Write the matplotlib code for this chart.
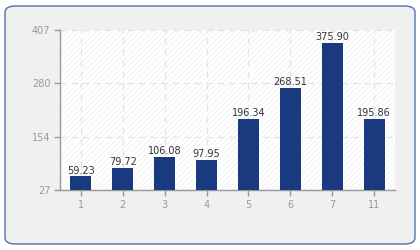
import matplotlib
matplotlib.use("Agg")
import matplotlib.pyplot as plt
from matplotlib.patches import FancyBboxPatch, Rectangle

categories = ["1", "2", "3", "4", "5", "6", "7", "11"]
values = [59.23, 79.72, 106.08, 97.95, 196.34, 268.51, 375.90, 195.86]
yticks = [27, 154, 280, 407]

plt.rcParams['hatch.linewidth'] = 0.6
fig = plt.figure(figsize=(4.2, 2.5), dpi=100)
fig.patch.set_facecolor("white")
box = FancyBboxPatch((5/420, 6/250), 410/420, 238/250,
                     boxstyle="round,pad=0,rounding_size=0.025",
                     transform=fig.transFigure, facecolor="#f0f0f0",
                     edgecolor="#5470ab", linewidth=1.0, zorder=-10)
fig.add_artist(box)

ax = fig.add_axes([60/420, 1-190/250, 335/420, 160/250])
ax.set_zorder(5)
ax.set_facecolor("white")
ax.add_patch(Rectangle((0, 0), 1, 1, transform=ax.transAxes, facecolor="white",
                       edgecolor="#f0f0f0", hatch="//////", linewidth=0, zorder=0))
x = list(range(len(categories)))
ax.bar(x, values, width=0.5, color="#1a3a80", zorder=3, bottom=0)
ax.set_xlim(-0.5, len(categories) - 0.5)
ax.set_ylim(yticks[0], yticks[-1])
ax.set_yticks(yticks)
ax.set_xticks(x)
ax.set_xticklabels(categories)
ax.grid(True, color="#e3e3e3", linestyle=(0, (5, 4)), linewidth=0.9, zorder=1)
for s in ["top", "right"]:
    ax.spines[s].set_visible(False)
for s in ["left", "bottom"]:
    ax.spines[s].set_color("#999999")
    ax.spines[s].set_linewidth(1.0)
ax.tick_params(colors="#999999", labelsize=7, length=4, width=1, pad=3)
ax.tick_params(axis="both", labelcolor="#999999")
for xi, v in zip(x, values):
    ax.text(xi, v + 2, f"{v:.2f}", ha="center", va="bottom", fontsize=7,
            color="#333333", zorder=4)
fig.savefig("out.png", dpi=100, facecolor="white")
